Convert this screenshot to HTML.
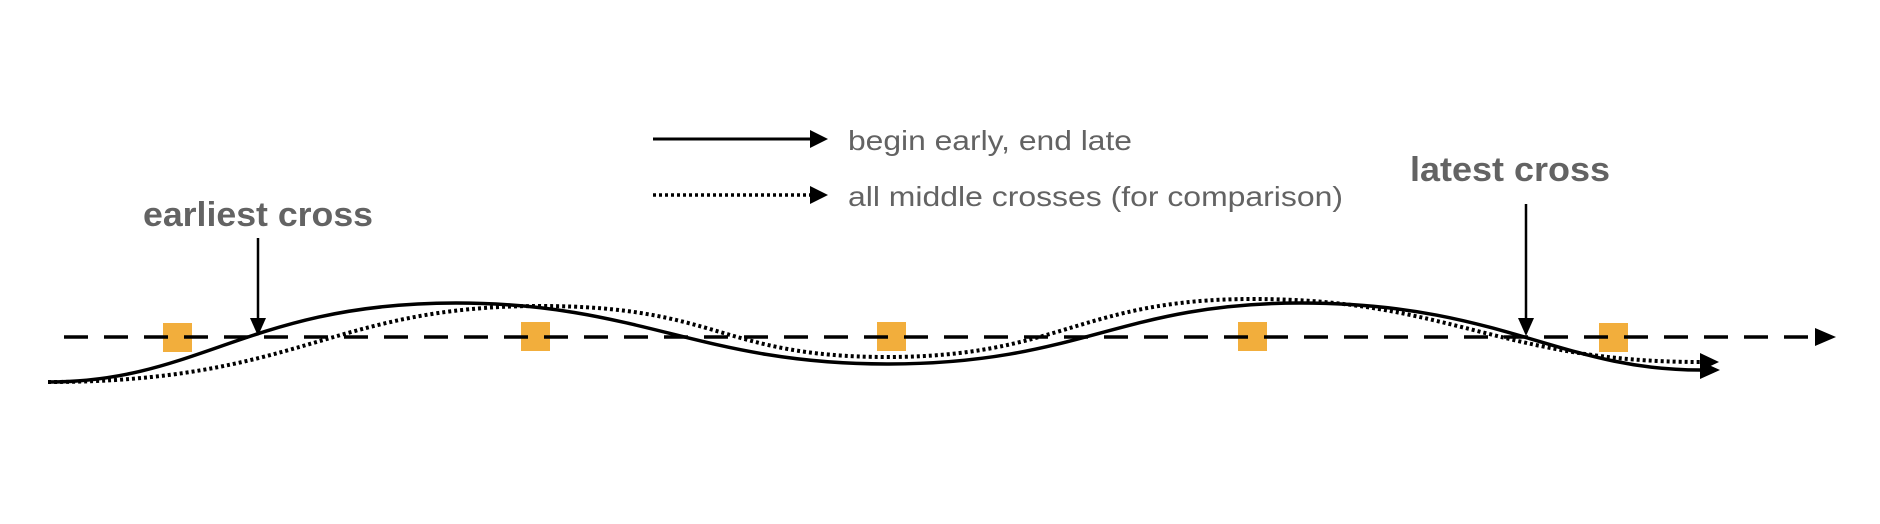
<!DOCTYPE html>
<html><head><meta charset="utf-8"><style>html,body{margin:0;padding:0;background:#fff}svg{display:block}</style></head>
<body>
<svg width="1880" height="524" viewBox="0 0 1880 524" xmlns="http://www.w3.org/2000/svg" font-family="Liberation Sans, Arial, sans-serif">
<!-- orange squares -->
<g fill="#f2ae3c">
<rect x="163" y="323" width="29" height="29"/>
<rect x="521" y="322" width="29" height="29"/>
<rect x="877" y="322" width="29" height="29"/>
<rect x="1238" y="322" width="29" height="29"/>
<rect x="1599" y="323" width="29" height="29"/>
</g>
<!-- dashed axis -->
<line x1="64" y1="337" x2="1815" y2="337" stroke="#000" stroke-width="3.5" stroke-dasharray="24,16"/>
<path d="M1815,328 L1836,337 L1815,346 z" fill="#000"/>
<!-- dotted curve -->
<path d="M48,382 C300,382 330,306 540,306 C720,306 720,357 887,357 C1060,357 1080,299 1253,299 C1450,299 1500,362 1700,362" fill="none" stroke="#000" stroke-width="4" stroke-dasharray="3,3"/>
<path d="M1700,353 L1719,362 L1700,371 z" fill="#000"/>
<!-- solid curve -->
<path d="M48,382 C200,382 250,303 456,303 C640,303 700,364 887,364 C1080,364 1120,303 1301,303 C1500,303 1560,370 1700,370" fill="none" stroke="#000" stroke-width="3.5"/>
<path d="M1700,361 L1720,370 L1700,379 z" fill="#000"/>
<!-- pointer arrows -->
<line x1="258" y1="238" x2="258" y2="320" stroke="#000" stroke-width="2.5"/>
<path d="M250,318 L258,336 L266,318 z" fill="#000"/>
<line x1="1526" y1="204" x2="1526" y2="320" stroke="#000" stroke-width="2.5"/>
<path d="M1518,318 L1526,336 L1534,318 z" fill="#000"/>
<!-- labels -->
<text x="258" y="226" text-anchor="middle" font-size="34" font-weight="bold" fill="#636363" textLength="230" lengthAdjust="spacingAndGlyphs">earliest cross</text>
<text x="1510" y="181" text-anchor="middle" font-size="34" font-weight="bold" fill="#636363" textLength="200" lengthAdjust="spacingAndGlyphs">latest cross</text>
<!-- legend -->
<line x1="653" y1="139" x2="812" y2="139" stroke="#000" stroke-width="3"/>
<path d="M810,130 L828,139 L810,148 z" fill="#000"/>
<text x="848" y="150" font-size="28" fill="#636363" textLength="284" lengthAdjust="spacingAndGlyphs">begin early, end late</text>
<line x1="653" y1="195" x2="812" y2="195" stroke="#000" stroke-width="3.5" stroke-dasharray="3,3"/>
<path d="M810,186 L828,195 L810,204 z" fill="#000"/>
<text x="848" y="206" font-size="28" fill="#636363" textLength="495" lengthAdjust="spacingAndGlyphs">all middle crosses (for comparison)</text>
</svg>
</body></html>
